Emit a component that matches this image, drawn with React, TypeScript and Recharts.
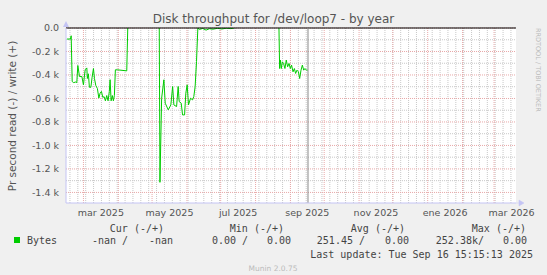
import React from 'react';
import { LineChart, Line, XAxis, YAxis, CartesianGrid, ReferenceLine, ReferenceDot } from 'recharts';

// days counted from 1 Jan 2025, read rate in bytes/s drawn negative (read = -)
const readDays = [
  44.3, 47.5, 48.1, 49.0, 50.3, 52.1, 53.1, 54.0, 55.5, 57.6, 59.0, 60.5, 62.0, 62.5, 63.4, 64.3,
  65.6, 66.7, 67.9, 68.8, 70.0, 71.4, 72.7, 73.8, 75.0, 76.2, 77.4, 78.5, 79.7, 80.9, 82.0, 82.7,
  83.6, 84.7, 85.6, 86.5, 87.4, 89.1, 97.5, 98.4,
  110,
  126.4, 127.0, 128.5, 130.5, 131.7, 134.4, 136.7, 138.3, 139.4, 141.8, 143.2, 144.1, 145.9, 147.1,
  148.9, 150.0, 151.2, 152.4, 154.2, 156.0, 157.1, 158.3, 159.5, 160.7,
  162, 165, 168, 171, 174, 178, 182, 186, 190, 193,
  210,
  232.8, 233.4, 234.0, 234.9, 235.8, 236.9, 238.1, 239.3, 240.5, 241.8, 242.9, 244.0, 245.3, 246.5,
  247.6, 248.8, 250.1, 251.2, 252.4, 253.6, 254.8, 255.9, 257.2, 258.3,
];
const readBytes = [
  -94, -94, -66, -456, -465, -460, -465, -319, -413, -413, -484, -356, -340, -430, -390, -505,
  -505, -420, -345, -430, -490, -515, -597, -555, -540, -590, -585, -620, -575, -620, -540, -440,
  -620, -575, -620, -575, -356, -356, -365, 0,
  null,
  0, -1314, -598, -441, -640, -697, -655, -498, -655, -669, -498, -626, -640, -740,
  -740, -555, -484, -655, -598, -612, -584, -498, -285, 0,
  -12, -4, -18, -6, -10, -3, -8, -2, -5, 0,
  null,
  0, -345, -273, -345, -288, -302, -345, -273, -330, -302, -345, -316, -373, -345,
  -387, -359, -373, -430, -359, -316, -359, -345, -359, -359,
];

const monthStartDays = [59, 90, 120, 151, 181, 212, 243, 273, 304, 334, 365, 396, 424];
const labelDays = [74.5, 135.5, 196.5, 258, 319, 380.5, 439.5];
const labelNames = ['mar 2025', 'may 2025', 'jul 2025', 'sep 2025', 'nov 2025', 'ene 2026', 'mar 2026'];
const majorYTicks = [0, -200, -400, -600, -800, -1000, -1200, -1400];
const minorYTicks = [-100, -300, -500, -700, -900, -1100, -1300];
const xDomain = [43.5, 443.5];
const yDomain = [-1490, 0];
const nowDay = 258.6;

const weekStartDays: number[] = [];
for (let d = 47; d < xDomain[1]; d += 7) weekStartDays.push(d);

const legendHeads = ['Cur (-/+)', 'Min (-/+)', 'Avg (-/+)', 'Max (-/+)'];
const legendReads = ['-nan /', '0.00 /', '251.45 /', '252.38k/'];
const legendWrites = ['-nan', '0.00', '0.00', '0.00'];

const data = readDays.map((day, i) => ({ day, read: readBytes[i] }));

const AXIS = '#c4c4f4';
const GREEN = '#00cc00';
const MAJOR = '#e8a8a8';
const MINOR = '#c8c8c8';

const headX = [164, 284, 405, 526];
const readX = [128, 248, 365, 484];
const writeX = [173, 291, 409, 527];

const fmtY = (v: number) => (v === 0 ? '0.0' : `${(v / 1000).toFixed(1)} k`);

export default function App() {
  return (
    <div style={{ position: 'fixed', left: 0, top: 0, width: 547, height: 275, background: '#f0f0f0', fontFamily: 'DejaVu Sans' }}>
      <LineChart width={547} height={275} data={data} margin={{ top: 28, right: 31, bottom: 58, left: 0 }}>
        <CartesianGrid fill="#ffffff" horizontal={false} vertical={false} />
        {weekStartDays.map(d => (
          <ReferenceLine key={'w' + d} x={d} stroke={MINOR} strokeDasharray="1 1" />
        ))}
        {minorYTicks.map(v => (
          <ReferenceLine key={'m' + v} y={v} stroke={MINOR} strokeDasharray="1 1" />
        ))}
        {monthStartDays.map(d => (
          <ReferenceLine key={'M' + d} x={d} stroke={MAJOR} strokeDasharray="1 1" />
        ))}
        {majorYTicks.map(v => (
          <ReferenceLine key={'Y' + v} y={v} stroke={MAJOR} strokeDasharray="1 1" />
        ))}
        <XAxis
          dataKey="day"
          type="number"
          domain={xDomain}
          ticks={labelDays}
          tickFormatter={(v: number) => labelNames[labelDays.indexOf(v)]}
          height={14}
          tickSize={0}
          tickMargin={6}
          interval={0}
          allowDataOverflow
          axisLine={{ stroke: AXIS }}
          tick={{ fontSize: 9.5, fill: '#555' }}
        />
        <YAxis
          type="number"
          domain={yDomain}
          ticks={majorYTicks}
          tickFormatter={fmtY}
          width={66}
          tickSize={0}
          tickMargin={7}
          interval={0}
          allowDataOverflow
          axisLine={{ stroke: AXIS }}
          tick={{ fontSize: 9.5, fill: '#555' }}
        />
        <Line
          dataKey="read"
          type="linear"
          stroke={GREEN}
          strokeWidth={1}
          dot={false}
          activeDot={false}
          connectNulls={false}
          isAnimationActive={false}
        />
        <ReferenceLine y={0} stroke="#000000" />
        <ReferenceLine x={nowDay} stroke="#888888" />
        <ReferenceDot
          x={xDomain[0]}
          y={yDomain[1]}
          r={1}
          shape={(p: any) => (
            <path d={`M${p.cx - 3},${p.cy - 1} L${p.cx + 3},${p.cy - 1} L${p.cx},${p.cy - 7} Z`} fill={AXIS} />
          )}
        />
        <ReferenceDot
          x={xDomain[1]}
          y={yDomain[0]}
          r={1}
          shape={(p: any) => (
            <path d={`M${p.cx},${p.cy} L${p.cx + 3},${p.cy} M${p.cx + 3},${p.cy - 3} L${p.cx + 3},${p.cy + 3} L${p.cx + 8},${p.cy} Z`} fill={AXIS} stroke={AXIS} strokeWidth={0.5} />
          )}
        />
      </LineChart>
      <svg width={547} height={275} style={{ position: 'absolute', left: 0, top: 0, pointerEvents: 'none' }}>
        <text x={273.5} y={23} textAnchor="middle" fontSize={12} fill="#555">
          Disk throughput for /dev/loop7 - by year
        </text>
        <text transform="translate(16,116) rotate(-90)" textAnchor="middle" fontSize={10.5} fill="#555">
          Pr second read (-) / write (+)
        </text>
        <text transform="translate(536,28) rotate(90)" fontSize={6.5} fill="#bbb">
          RRDTOOL / TOBI OETIKER
        </text>
        <g fontFamily="DejaVu Sans Mono" fontSize={10} fill="#444">
          {legendHeads.map((t, i) => (
            <text key={t} x={headX[i]} y={231.5} textAnchor="end" style={{ whiteSpace: 'pre' }}>{t}</text>
          ))}
          <rect x={14} y={237} width={6} height={6} fill={GREEN} />
          <text x={27} y={243.5}>Bytes</text>
          {legendReads.map((t, i) => (
            <text key={'r' + i} x={readX[i]} y={243.5} textAnchor="end" style={{ whiteSpace: 'pre' }}>{t}</text>
          ))}
          {legendWrites.map((t, i) => (
            <text key={'w' + i} x={writeX[i]} y={243.5} textAnchor="end">{t}</text>
          ))}
          <text x={533} y={258} textAnchor="end">Last update: Tue Sep 16 15:15:13 2025</text>
        </g>
        <text x={273} y={270.5} textAnchor="middle" fontSize={7.5} fill="#bbb">Munin 2.0.75</text>
      </svg>
    </div>
  );
}
